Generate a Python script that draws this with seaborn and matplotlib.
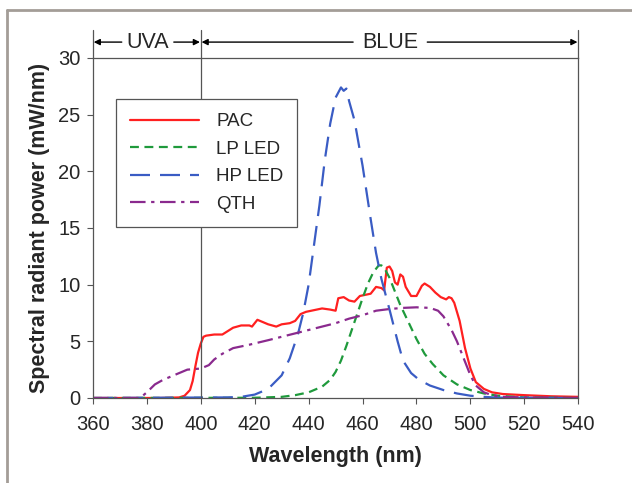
import numpy as np
import pandas as pd
import matplotlib
matplotlib.use("Agg")
import matplotlib.pyplot as plt
import seaborn as sns
from matplotlib.lines import Line2D

# PAC (plasma arc) spectrum
pac_wl = [360, 385, 392, 394, 396, 397, 398, 399, 400, 401, 402, 405, 408, 410, 412, 415, 418, 419,
          421, 423, 425, 428, 430, 433, 435, 437, 439, 441, 443, 445, 448, 450, 451, 453, 455, 457,
          459, 461, 463, 465, 467, 468, 469, 470, 471, 472, 473, 474, 475, 476, 478, 480, 482, 483,
          485, 487, 489, 491, 492, 493, 494, 496, 498, 500, 502, 505, 508, 512, 520, 530, 540]
pac_val = [0, 0, 0.05, 0.2, 0.7, 1.5, 2.8, 4.0, 4.8, 5.4, 5.5, 5.6, 5.6, 5.9, 6.2, 6.4, 6.4, 6.3,
           6.9, 6.7, 6.5, 6.3, 6.5, 6.6, 6.8, 7.4, 7.6, 7.7, 7.8, 7.9, 7.8, 7.7, 8.8, 8.9, 8.6, 8.5,
           9.0, 9.1, 9.2, 9.8, 9.7, 9.5, 11.5, 11.6, 11.2, 10.2, 10.0, 10.9, 10.7, 9.8, 9.0, 9.0, 9.9, 10.1,
           9.8, 9.3, 8.9, 8.7, 8.9, 8.8, 8.4, 6.8, 4.4, 2.6, 1.4, 0.8, 0.5, 0.35, 0.25, 0.15, 0.1]

# LP LED spectrum
lp_wl = [360, 420, 430, 435, 440, 445, 448, 450, 452, 454, 456, 458, 460, 462, 464, 466, 467, 468,
         470, 472, 474, 476, 478, 480, 483, 486, 490, 495, 500, 505, 510, 520, 540]
lp_val = [0, 0.02, 0.1, 0.25, 0.5, 1.0, 1.6, 2.3, 3.3, 4.6, 6.0, 7.4, 8.8, 10.1, 11.1, 11.7, 11.7, 11.5,
          10.6, 9.4, 8.2, 7.2, 6.2, 5.2, 3.9, 3.0, 2.0, 1.2, 0.7, 0.4, 0.2, 0.05, 0]

# HP LED spectrum
hp_wl = [360, 410, 415, 420, 425, 430, 433, 436, 438, 440, 442, 444, 446, 448, 450, 452, 453, 454,
         455, 457, 460, 463, 465, 467, 470, 473, 475, 478, 481, 485, 490, 495, 500, 505, 510, 540]
hp_val = [0, 0.05, 0.1, 0.3, 0.8, 2.0, 3.5, 5.6, 7.5, 10.0, 13.5, 17.0, 21.0, 24.2, 26.5, 27.4, 27.1, 27.3,
          26.2, 24.5, 20.5, 15.8, 12.8, 10.5, 7.8, 5.0, 3.3, 2.2, 1.6, 1.1, 0.7, 0.4, 0.2, 0.1, 0.03, 0]

# QTH spectrum
qth_wl = [360, 377, 378, 380, 383, 386, 390, 395, 400, 403, 405, 408, 412, 418, 425, 430, 435, 440,
          445, 450, 455, 460, 465, 470, 475, 480, 485, 488, 490, 493, 495, 497, 500, 502, 505, 508,
          512, 520, 540]
qth_val = [0, 0, 0.1, 0.5, 1.2, 1.6, 2.0, 2.5, 2.6, 2.9, 3.4, 3.9, 4.4, 4.7, 5.1, 5.4, 5.7, 6.0,
           6.3, 6.6, 7.0, 7.3, 7.7, 7.85, 7.95, 8.0, 7.95, 7.7, 7.2, 6.0, 5.0, 3.8, 2.0, 1.1, 0.5, 0.25,
           0.1, 0.05, 0]

series = [
    ("PAC", pac_wl, pac_val, "#ff2020", "-"),
    ("LP LED", lp_wl, lp_val, "#1f9a3c", (0, (4, 2.5))),
    ("HP LED", hp_wl, hp_val, "#3a5cc4", (0, (9, 4.5))),
    ("QTH", qth_wl, qth_val, "#8a2a8e", (0, (7, 2.5, 1.5, 2.5))),
]

sns.set_style("white")
plt.rcParams["font.family"] = ["Liberation Sans", "DejaVu Sans"]

fig = plt.figure(figsize=(6.32, 4.83), dpi=100)
ax = fig.add_axes([0.147, 0.176, 0.768, 0.704])

for name, wl, val, col, ls in series:
    df = pd.DataFrame({"wl": wl, "val": val})
    sns.lineplot(data=df, x="wl", y="val", ax=ax, color=col, linestyle=ls,
                 linewidth=1.6, label=name, estimator=None, sort=False)

ax.set_xlim(360, 540)
ax.set_ylim(0, 30)
ax.set_xticks(range(360, 541, 20))
ax.set_yticks(range(0, 31, 5))
ax.tick_params(axis="both", direction="out", length=4, width=0.8, color="#555555",
               labelsize=14.5, bottom=True, left=True)
ax.tick_params(axis="x", pad=8)
ax.tick_params(axis="y", pad=5)
for s in ax.spines.values():
    s.set_color("#555555")
    s.set_linewidth(0.9)
ax.set_xlabel("Wavelength (nm)", fontsize=15.5, fontweight="bold", labelpad=9)
ax.set_ylabel("Spectral radiant power (mW/nm)", fontsize=15.5, fontweight="bold", labelpad=6)

# UVA / BLUE divider
ax.axvline(400, color="#555555", linewidth=0.9)
for xv in (360, 400, 540):
    ax.plot([xv, xv], [30, 32.5], color="#555555", linewidth=0.9, clip_on=False)

ya = 31.4
arr = dict(arrowstyle="-|>", color="black", lw=1.0, mutation_scale=9, shrinkA=0, shrinkB=0)
ax.annotate("", xy=(360.3, ya), xytext=(370.7, ya), arrowprops=arr, annotation_clip=False)
ax.annotate("", xy=(399.7, ya), xytext=(390, ya), arrowprops=arr, annotation_clip=False)
ax.annotate("", xy=(400.3, ya), xytext=(456.5, ya), arrowprops=arr, annotation_clip=False)
ax.annotate("", xy=(539.7, ya), xytext=(484, ya), arrowprops=arr, annotation_clip=False)
ax.text(380.4, ya, "UVA", ha="center", va="center", fontsize=15.5)
ax.text(470.2, ya, "BLUE", ha="center", va="center", fontsize=15.5)

leg = ax.legend(loc="upper left", bbox_to_anchor=(0.047, 0.879), borderaxespad=0,
                fontsize=13.5, handlelength=3.7, handletextpad=0.9, labelspacing=0.55,
                fancybox=False, framealpha=1, edgecolor="#555555", borderpad=0.75)
leg.get_frame().set_linewidth(0.9)

# outer grey frame
fig.add_artist(Line2D([0.011, 0.011], [0, 0.98], transform=fig.transFigure, color="#a39d97", lw=2))
fig.add_artist(Line2D([0.011, 1.0], [0.98, 0.98], transform=fig.transFigure, color="#a39d97", lw=2))

fig.savefig("out.png", dpi=100)
